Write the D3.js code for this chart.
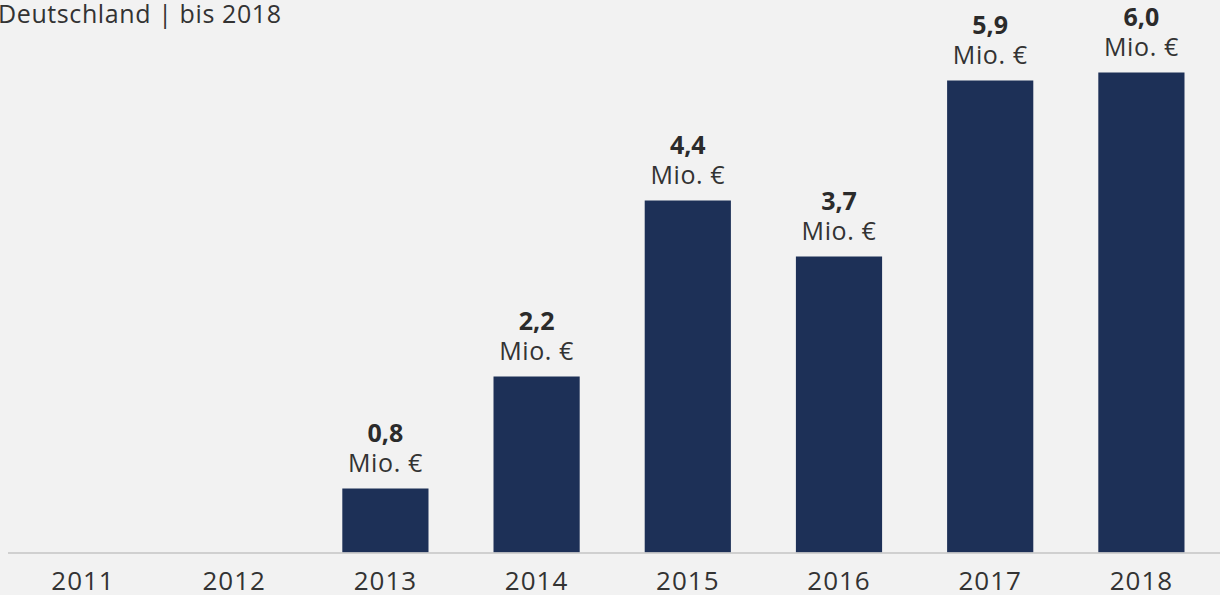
<html>
<head>
    <script src="https://d3js.org/d3.v7.min.js"></script>
</head>
<style>
    body { margin: 0; background: #f2f2f2; }
    svg { display: block; font-family: "Open Sans", sans-serif; }
    .year { font-size: 26px; fill: #333; text-anchor: middle; letter-spacing: 1px; }
    .val { font-size: 25px; font-weight: bold; fill: #2b2b2b; text-anchor: middle; }
    .unit { font-size: 25px; fill: #333; text-anchor: middle; letter-spacing: 0.6px; }
    .title { font-size: 25px; fill: #333; letter-spacing: 0.6px; }
</style>
<body>
    <svg id="chart" width="1220" height="595"></svg>
    <script>
        // Umsatz in Mio. Euro, Deutschland
        const years = ["2011", "2012", "2013", "2014", "2015", "2016", "2017", "2018"];
        const values = [null, null, 0.8, 2.2, 4.4, 3.7, 5.9, 6.0];
        const valueLabels = ["", "", "0,8", "2,2", "4,4", "3,7", "5,9", "6,0"];
        const unitLabel = "Mio. €";
        const titleText = "Deutschland | bis 2018";

        const svg = d3.select("svg#chart");
        const baseY = 552.5;

        const x = d3.scaleBand().domain(years).range([7.4, 1217]).paddingInner(0.43).paddingOuter(0.215);
        const y = d3.scaleLinear().domain([0, 6]).range([baseY, 72.5]);

        svg.append("rect").attr("width", 1220).attr("height", 595).attr("fill", "#f2f2f2");

        svg.append("text").attr("class", "title").attr("x", -2).attr("y", 23).text(titleText);

        const data = years.map((yr, i) => ({ year: yr, v: values[i], label: valueLabels[i] }))
                          .filter(d => d.v != null);

        svg.selectAll("rect.bar").data(data)
           .join("rect")
           .attr("class", "bar")
           .attr("x", d => x(d.year))
           .attr("width", x.bandwidth())
           .attr("y", d => y(d.v))
           .attr("height", d => baseY - y(d.v))
           .attr("fill", "#1d3057");

        svg.append("line")
           .attr("x1", 8).attr("x2", 1220)
           .attr("y1", baseY + 0.5).attr("y2", baseY + 0.5)
           .attr("stroke", "#c4c4c4").attr("stroke-width", 1.5);

        svg.selectAll("text.val").data(data)
           .join("text")
           .attr("class", "val")
           .attr("x", d => x(d.year) + x.bandwidth() / 2)
           .attr("y", d => y(d.v) - 47)
           .text(d => d.label);

        svg.selectAll("text.unit").data(data)
           .join("text")
           .attr("class", "unit")
           .attr("x", d => x(d.year) + x.bandwidth() / 2)
           .attr("y", d => y(d.v) - 17)
           .text(unitLabel);

        svg.selectAll("text.year").data(years)
           .join("text")
           .attr("class", "year")
           .attr("x", d => x(d) + x.bandwidth() / 2)
           .attr("y", 590)
           .text(d => d);
    </script>
</body>
</html>
